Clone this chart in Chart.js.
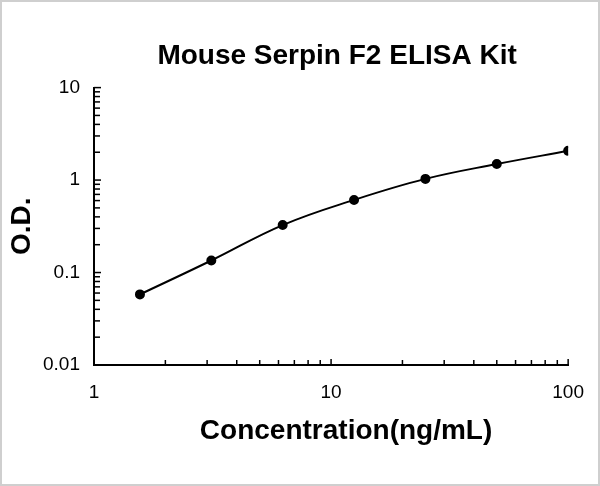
<!DOCTYPE html>
<html>
<head>
<meta charset="utf-8">
<script src="https://cdn.jsdelivr.net/npm/chart.js@4/dist/chart.umd.min.js"></script>
<style>
  html, body { margin: 0; padding: 0; background: #fff; }
  #wrap { width: 600px; height: 486px; }
</style>
</head>
<body>
<div id="wrap"><canvas id="chart" width="600" height="486"></canvas></div>
<script>
// standard curve data
var concentrations = [1.5625, 3.125, 6.25, 12.5, 25, 50, 100];
var odValues = [0.058, 0.135, 0.326, 0.61, 1.03, 1.49, 2.07];
var xTickLabels = [1, 10, 100];
var yTickLabels = [0.01, 0.1, 1, 10];
var xTitle = 'Concentration(ng/mL)';

var FONT = "'Liberation Sans', Arial, sans-serif";

// log ticks 1..9 per decade, labels only on the powers of ten
function decadeTicks(scale) {
    var ticks = [];
    var lo = Math.floor(Math.log10(scale.min));
    var hi = Math.ceil(Math.log10(scale.max));
    for (var e = lo; e <= hi; e++) {
        for (var m = 1; m <= 9; m++) {
            var v = +(m * Math.pow(10, e)).toPrecision(6);
            if (v >= scale.min - 1e-12 && v <= scale.max + 1e-9) ticks.push({ value: v, major: m === 1 });
        }
    }
    scale.ticks = ticks;
}

// tick marks drawn inside the plot, like the Excel original, plus the x title
var insideTicks = {
    id: 'insideTicks',
    afterLayout: function(chart) {
        // the original title sits a little right of the plot centre
        if (chart.titleBlock) {
            chart.titleBlock.left += 6;
            chart.titleBlock.right += 6;
        }
    },
    afterDraw: function(chart) {
        var ctx = chart.ctx;
        var xs = chart.scales.x, ys = chart.scales.y;
        var area = chart.chartArea;
        ctx.save();
        ctx.strokeStyle = '#000';
        ctx.lineWidth = 1.5;
        xs.ticks.forEach(function(t) {
            var px = xs.getPixelForValue(t.value);
            var len = t.major ? 6 : 5;
            ctx.beginPath();
            ctx.moveTo(px, xs.top);
            ctx.lineTo(px, xs.top - len);
            ctx.stroke();
        });
        ys.ticks.forEach(function(t) {
            var py = ys.getPixelForValue(t.value);
            var len = t.major ? 7 : 6;
            ctx.beginPath();
            ctx.moveTo(ys.right, py);
            ctx.lineTo(ys.right + len, py);
            ctx.stroke();
        });
        ctx.fillStyle = '#000';
        ctx.font = 'bold 28px ' + FONT;
        ctx.textAlign = 'center';
        ctx.textBaseline = 'middle';
        ctx.fillText(xTitle, (area.left + area.right) / 2 + 15, area.bottom + 66);
        ctx.restore();
    }
};

var frame = {
    id: 'frame',
    beforeDraw: function(chart) {
        var ctx = chart.ctx;
        ctx.save();
        ctx.fillStyle = '#fff';
        ctx.fillRect(0, 0, chart.width, chart.height);
        ctx.strokeStyle = '#cfcfcf';
        ctx.lineWidth = 2;
        ctx.strokeRect(1, 1, chart.width - 2, chart.height - 2);
        ctx.restore();
    }
};

new Chart(document.getElementById('chart'), {
    type: 'line',
    data: {
        datasets: [{
            data: concentrations.map(function(c, i) { return { x: c, y: odValues[i] }; }),
            borderColor: '#000',
            backgroundColor: '#000',
            borderWidth: 2,
            pointRadius: 4,
            pointBackgroundColor: '#000',
            tension: 0.4,
            fill: false
        }]
    },
    options: {
        responsive: false,
        animation: false,
        events: [],
        layout: { padding: { left: 0, right: 31, top: 0, bottom: 0 } },
        plugins: {
            legend: { display: false },
            tooltip: { enabled: false },
            title: {
                display: true,
                fullSize: false,
                text: 'Mouse Serpin F2 ELISA Kit',
                color: '#000',
                font: { family: FONT, size: 28, weight: 'bold' },
                padding: { top: 39, bottom: 15 }
            }
        },
        scales: {
            x: {
                type: 'logarithmic',
                min: 1,
                max: 100,
                afterBuildTicks: decadeTicks,
                afterFit: function(s) { s.height = 121; },
                grid: { display: false, drawTicks: false },
                border: { display: true, color: '#000', width: 2 },
                ticks: {
                    autoSkip: false,
                    maxRotation: 0,
                    padding: 16,
                    color: '#000',
                    font: { family: FONT, size: 19 },
                    callback: function(v) { return xTickLabels.indexOf(v) >= 0 ? String(v) : ''; }
                }
            },
            y: {
                type: 'logarithmic',
                min: 0.01,
                max: 10,
                afterBuildTicks: decadeTicks,
                afterFit: function(s) { s.width = 94; },
                grid: { display: false, drawTicks: false },
                border: { display: true, color: '#000', width: 2 },
                ticks: {
                    autoSkip: false,
                    padding: 14,
                    color: '#000',
                    font: { family: FONT, size: 19 },
                    callback: function(v) { return yTickLabels.indexOf(v) >= 0 ? String(v) : ''; }
                },
                title: {
                    display: true,
                    text: 'O.D.',
                    color: '#000',
                    font: { family: FONT, size: 28, weight: 'bold' },
                    padding: { top: 5, bottom: 0 }
                }
            }
        }
    },
    plugins: [frame, insideTicks]
});
</script>
</body>
</html>
